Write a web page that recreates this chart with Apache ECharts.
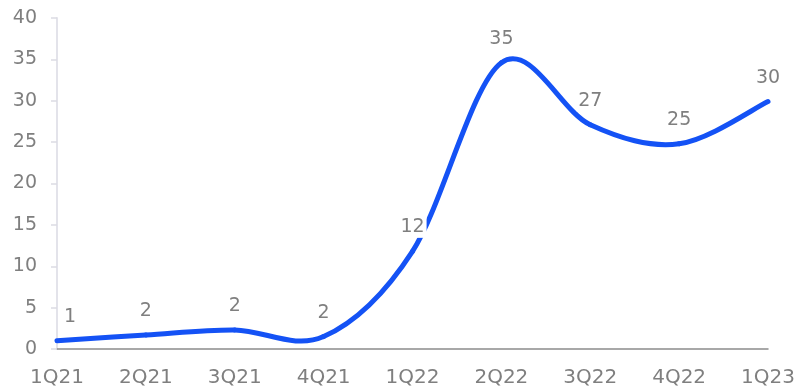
<!DOCTYPE html>
<html>
<head>
<meta charset="utf-8">
<script src="https://cdn.jsdelivr.net/npm/echarts@6/dist/echarts.min.js"></script>
<style>
  html, body { margin: 0; padding: 0; background: #ffffff; }
  #chart { width: 802px; height: 388px; }
</style>
</head>
<body>
<div id="chart"></div>
<script>
// Quarterly values
const quarters = ['1Q21', '2Q21', '3Q21', '4Q21', '1Q22', '2Q22', '3Q22', '4Q22', '1Q23'];
const values = [1.0, 1.7, 2.3, 1.5, 11.8, 34.6, 27.1, 24.8, 29.9];
const yTicks = { min: 0, max: 40, step: 5 };

const FONT = 'DejaVu Sans';
const GREY = '#7f7f7f';
const BLUE = '#1452f5';

const chart = echarts.init(document.getElementById('chart'), null, { renderer: 'canvas' });

// Cardinal (Catmull-Rom) spline segment between point i and i+1, in pixel space
function renderSegment(params, api) {
  const i = params.dataIndex;
  const n = values.length;
  if (i >= n - 1) return null;
  const pt = j => api.coord([Math.max(0, Math.min(n - 1, j)), values[Math.max(0, Math.min(n - 1, j))]]);
  const p0 = pt(i - 1), p1 = pt(i), p2 = pt(i + 1), p3 = pt(i + 2);
  const k = 1 / 6;
  return {
    type: 'bezierCurve',
    shape: {
      x1: p1[0], y1: p1[1],
      x2: p2[0], y2: p2[1],
      cpx1: p1[0] + (p2[0] - p0[0]) * k,
      cpy1: p1[1] + (p2[1] - p0[1]) * k,
      cpx2: p2[0] - (p3[0] - p1[0]) * k,
      cpy2: p2[1] - (p3[1] - p1[1]) * k
    },
    style: { stroke: BLUE, lineWidth: 5, fill: null, lineCap: 'round', lineJoin: 'round' }
  };
}

chart.setOption({
  animation: false,
  backgroundColor: '#ffffff',
  grid: { left: 57, right: 34, top: 18, bottom: 38, containLabel: false },
  xAxis: {
    type: 'category',
    data: quarters,
    boundaryGap: false,
    axisLine: { show: true, lineStyle: { color: '#8c8c8c', width: 1.5 } },
    axisTick: { show: false },
    axisLabel: { color: GREY, fontFamily: FONT, fontSize: 20, margin: 19 },
    splitLine: { show: false }
  },
  yAxis: {
    type: 'value',
    min: yTicks.min,
    max: yTicks.max,
    interval: yTicks.step,
    axisLine: { show: true, lineStyle: { color: '#e3e3ea', width: 2 } },
    axisTick: { show: true, length: 6, lineStyle: { color: '#dcdce4', width: 1.5 } },
    axisLabel: { color: GREY, fontFamily: FONT, fontSize: 19, margin: 20 },
    splitLine: { show: false }
  },
  series: [
    {
      type: 'custom',
      data: values.map((v, i) => [i, v]),
      encode: { x: 0, y: 1 },
      renderItem: renderSegment,
      silent: true,
      z: 2
    },
    {
      type: 'line',
      data: values.map((v, i) => ({
        value: v,
        label: i === 0 ? { offset: [13, 0] } : undefined
      })),
      showSymbol: true,
      symbol: 'circle',
      symbolSize: 1,
      itemStyle: { color: 'rgba(0,0,0,0)' },
      lineStyle: { width: 0, opacity: 0 },
      label: {
        show: true,
        position: 'top',
        distance: 13,
        color: GREY,
        fontFamily: FONT,
        fontSize: 19,
        backgroundColor: '#ffffff',
        padding: [1, 2],
        formatter: p => Math.round(p.value)
      },
      z: 3
    }
  ]
});
</script>
</body>
</html>
